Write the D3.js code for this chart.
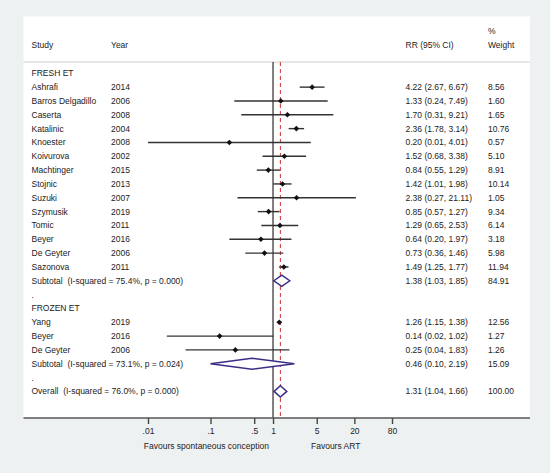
<!DOCTYPE html>
<html>
<head>
<meta charset="utf-8">
<script src="https://cdn.jsdelivr.net/npm/d3@7"></script>
<style>
  html, body { margin: 0; padding: 0; background: #eef1f1; }
  svg { display: block; }
  text { font-family: "Liberation Sans", Arial, Helvetica, sans-serif; font-size: 8.5px; fill: #222; white-space: pre; }
</style>
</head>
<body>
<svg id="chart" width="550" height="473"></svg>
<script>
// ---- data ----
const freshStudies = ["Ashrafi","Barros Delgadillo","Caserta","Katalinic","Knoester","Koivurova","Machtinger","Stojnic","Suzuki","Szymusik","Tomic","Beyer","De Geyter","Sazonova"];
const freshYears   = [2014,2006,2008,2004,2008,2002,2015,2013,2007,2019,2011,2016,2006,2011];
const freshRR      = [4.22,1.33,1.70,2.36,0.20,1.52,0.84,1.42,2.38,0.85,1.29,0.64,0.73,1.49];
const freshLo      = [2.67,0.24,0.31,1.78,0.01,0.68,0.55,1.01,0.27,0.57,0.65,0.20,0.36,1.25];
const freshHi      = [6.67,7.49,9.21,3.14,4.01,3.38,1.29,1.98,21.11,1.27,2.53,1.97,1.46,1.77];
const freshWeight  = [8.56,1.60,1.65,10.76,0.57,5.10,8.91,10.14,1.05,9.34,6.14,3.18,5.98,11.94];

const frozenStudies = ["Yang","Beyer","De Geyter"];
const frozenYears   = [2019,2016,2006];
const frozenRR      = [1.26,0.14,0.25];
const frozenLo      = [1.15,0.02,0.04];
const frozenHi      = [1.38,1.02,1.83];
const frozenWeight  = [12.56,1.27,1.26];

const pooledLabels = ["Subtotal  (I-squared = 75.4%, p = 0.000)", "Subtotal  (I-squared = 73.1%, p = 0.024)", "Overall  (I-squared = 76.0%, p = 0.000)"];
const pooledRR     = [1.38, 0.46, 1.31];
const pooledLo     = [1.03, 0.10, 1.04];
const pooledHi     = [1.85, 2.19, 1.66];
const pooledWeight = [84.91, 15.09, 100.00];

const groupLabels = ["FRESH ET", "FROZEN ET"];
const tickValues = [0.01, 0.1, 0.5, 1, 5, 20, 80];
const tickLabels = [".01", ".1", ".5", "1", "5", "20", "80"];
const axisTitles = ["Favours spontaneous conception", "Favours ART"];

// ---- build rows ----
const rows = [];
rows.push({type: "group", label: groupLabels[0]});
freshStudies.forEach((s, i) => rows.push({type: "study", label: s, year: freshYears[i], rr: freshRR[i], lo: freshLo[i], hi: freshHi[i], w: freshWeight[i]}));
rows.push({type: "pooled", label: pooledLabels[0], rr: pooledRR[0], lo: pooledLo[0], hi: pooledHi[0], w: pooledWeight[0]});
rows.push({type: "dot", label: "."});
rows.push({type: "group", label: groupLabels[1]});
frozenStudies.forEach((s, i) => rows.push({type: "study", label: s, year: frozenYears[i], rr: frozenRR[i], lo: frozenLo[i], hi: frozenHi[i], w: frozenWeight[i]}));
rows.push({type: "pooled", label: pooledLabels[1], rr: pooledRR[1], lo: pooledLo[1], hi: pooledHi[1], w: pooledWeight[1]});
rows.push({type: "dot", label: "."});
rows.push({type: "pooled", label: pooledLabels[2], rr: pooledRR[2], lo: pooledLo[2], hi: pooledHi[2], w: pooledWeight[2]});

// ---- layout ----
const svg = d3.select("#chart");
const panel = {x0: 23.5, x1: 530, y0: 16.5, y1: 418};
const x = d3.scaleLog().domain([0.01, 80]).range([148, 392]);
const y = d3.scalePoint().domain(d3.range(rows.length)).range([73.3, 391.4]);
const f2 = d3.format(".2f");
const colStudy = 31.5, colYear = 111, colRR = 405.5, colW = 488;

svg.append("rect").attr("x", panel.x0).attr("y", panel.y0)
  .attr("width", panel.x1 - panel.x0).attr("height", panel.y1 - panel.y0)
  .attr("fill", "#ffffff");

// header
const hdr = svg.append("g");
hdr.append("text").attr("x", colStudy).attr("y", 45).attr("dy", "0.35em").text("Study");
hdr.append("text").attr("x", colYear).attr("y", 45).attr("dy", "0.35em").text("Year");
hdr.append("text").attr("x", colRR).attr("y", 45).attr("dy", "0.35em").text("RR (95% CI)");
hdr.append("text").attr("x", colW).attr("y", 31).attr("dy", "0.35em").text("%");
hdr.append("text").attr("x", colW).attr("y", 45).attr("dy", "0.35em").text("Weight");
svg.append("line").attr("x1", panel.x0).attr("x2", panel.x1).attr("y1", 62).attr("y2", 62)
  .attr("stroke", "#d2cccc").attr("stroke-width", 1);

// reference lines
svg.append("line").attr("x1", x(1)).attr("x2", x(1)).attr("y1", 62).attr("y2", panel.y1)
  .attr("stroke", "#5a5252").attr("stroke-width", 1.5);
svg.append("line").attr("x1", x(pooledRR[2])).attr("x2", x(pooledRR[2])).attr("y1", 62).attr("y2", panel.y1)
  .attr("stroke", "#c8302c").attr("stroke-width", 1).attr("stroke-dasharray", "4,3");

// rows
const g = svg.append("g");
rows.forEach((r, i) => {
  const yy = y(i);
  g.append("text").attr("x", colStudy).attr("y", yy).attr("dy", "0.35em").text(r.label);
  if (r.type === "study") {
    g.append("text").attr("x", colYear).attr("y", yy).attr("dy", "0.35em").text(r.year);
    g.append("line").attr("x1", x(r.lo)).attr("x2", x(r.hi)).attr("y1", yy).attr("y2", yy)
      .attr("stroke", "#333").attr("stroke-width", 1.4);
    const cx = x(r.rr), s = 2.8;
    g.append("path").attr("d", `M${cx - s},${yy}L${cx},${yy - s}L${cx + s},${yy}L${cx},${yy + s}Z`)
      .attr("fill", "#111");
  }
  if (r.type === "pooled") {
    const h = 5.6;
    g.append("path")
      .attr("d", `M${x(r.lo)},${yy}L${x(r.rr)},${yy - h}L${x(r.hi)},${yy}L${x(r.rr)},${yy + h}Z`)
      .attr("fill", "#fff").attr("stroke", "#3b2e86").attr("stroke-width", 1.5);
  }
  if (r.type === "study" || r.type === "pooled") {
    g.append("text").attr("x", colRR).attr("y", yy).attr("dy", "0.35em")
      .text(`${f2(r.rr)} (${f2(r.lo)}, ${f2(r.hi)})`);
    g.append("text").attr("x", colW).attr("y", yy).attr("dy", "0.35em").text(f2(r.w));
  }
});

// axis
const axis = d3.axisBottom(x).tickValues(tickValues).tickFormat((d, i) => tickLabels[i]).tickSize(6).tickPadding(4);
const ax = svg.append("g").attr("transform", `translate(0,${panel.y1})`).call(axis);
ax.select(".domain").remove();
ax.selectAll(".tick line").attr("stroke", "#444").attr("stroke-width", 1.4);
ax.selectAll(".tick text").attr("fill", "#222").style("font-size", "8.5px")
  .style("font-family", "'Liberation Sans', Arial, Helvetica, sans-serif");
svg.append("line").attr("x1", panel.x0).attr("x2", panel.x1).attr("y1", panel.y1).attr("y2", panel.y1)
  .attr("stroke", "#555").attr("stroke-width", 1.5);

svg.append("text").attr("x", 269).attr("y", 446).attr("dy", "0.35em").attr("text-anchor", "end").text(axisTitles[0]);
svg.append("text").attr("x", 311).attr("y", 446).attr("dy", "0.35em").text(axisTitles[1]);
</script>
</body>
</html>
